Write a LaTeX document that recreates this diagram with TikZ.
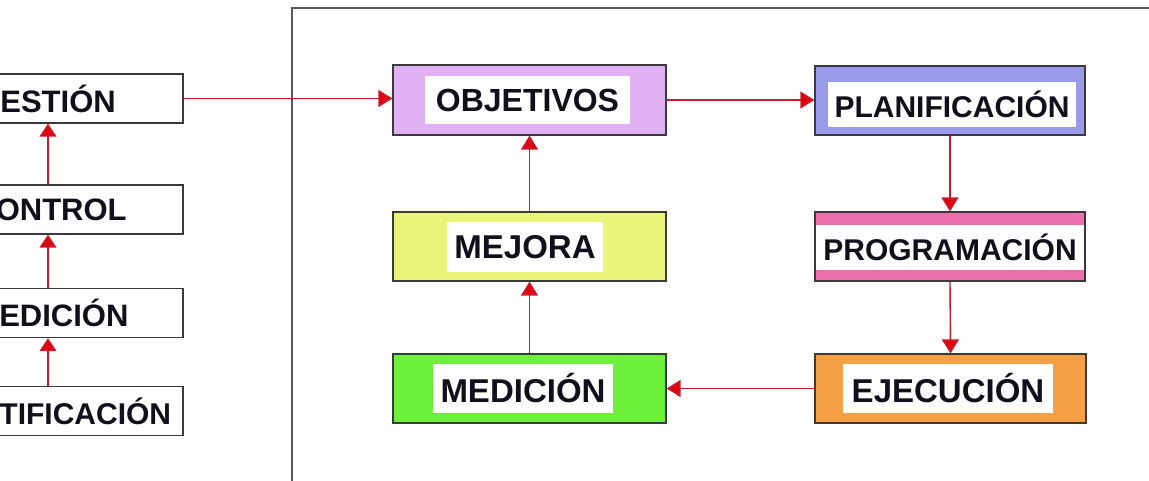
\documentclass[tikz,border=0pt]{standalone}
\usepackage{fontspec}
\setmainfont{Liberation Sans}
\usetikzlibrary{arrows.meta}
\definecolor{cobj}{HTML}{E0B0F2}
\definecolor{cplan}{HTML}{9A9AEB}
\definecolor{cprog}{HTML}{EC6EAA}
\definecolor{cejec}{HTML}{F5A046}
\definecolor{cmej}{HTML}{E8F57A}
\definecolor{cmed}{HTML}{6CF03C}
\definecolor{cline}{HTML}{C81A2A}
\definecolor{ctip}{HTML}{E00010}
\definecolor{cbord}{HTML}{3A3A3A}
\definecolor{ctext}{HTML}{10101C}
\tikzset{
  outerbox/.style={draw=cbord, line width=1.2pt, minimum width=#1, inner sep=0pt},
  innerbox/.style={fill=white, inner sep=0pt, text=ctext, font=\bfseries\fontsize{32}{32}\selectfont},
  lbox/.style={draw=cbord, line width=1.3pt, fill=white, minimum width=#1, minimum height=49pt, inner sep=0pt, text=ctext, font=\bfseries\fontsize{31}{31}\selectfont},
  arr/.style={draw=cline, line width=1.4pt, -{Triangle[length=14pt,width=17pt,fill=ctip]}},
  larr/.style={draw=cline, line width=1.4pt, -{Triangle[length=13pt,width=17pt,fill=ctip]}},
}
\begin{document}
\begin{tikzpicture}[x=1pt,y=-1pt]
\useasboundingbox (0,0) rectangle (1149,480);
\clip (0,0) rectangle (1149,480);
\fill[white] (0,0) rectangle (1149,480);
% left column
\node[lbox=274pt] (g) at (46,98.5) {GESTIÓN};
\node[lbox=266pt] (c) at (50,209.5) {CONTROL};
\node[lbox=264pt] (m) at (51,313) {MEDICIÓN};
\node[lbox=282pt, font=\bfseries\fontsize{30}{30}\selectfont] (q) at (42,411) {CUANTIFICACIÓN};
\coordinate (lx) at (48,0);
\draw[larr] (lx |- q.north) -- (lx |- m.south);
\draw[larr] (lx |- m.north) -- (lx |- c.south);
\draw[larr] (lx |- c.north) -- (lx |- g.south);
% frame
\draw[draw=cbord!85, line width=2pt] (1200,8) -- (292,8) -- (292,500);
% right boxes
\node[outerbox=273pt, minimum height=70pt, fill=cobj] (obj) at (529.5,100) {};
\node[innerbox, minimum width=205pt, minimum height=48pt] (objt) at (527.5,100) {OBJETIVOS};
\node[outerbox=270pt, minimum height=69pt, fill=cplan] (plan) at (950,100.5) {};
\node[innerbox, minimum width=248pt, minimum height=45pt, font=\bfseries\fontsize{30}{30}\selectfont] (plant) at (952,104.5) {PLANIFICACIÓN};
\node[outerbox=270pt, minimum height=69pt, fill=cprog] (prog) at (950,246.5) {};
\node[innerbox, minimum width=268pt, minimum height=45pt, font=\bfseries\fontsize{30}{30}\selectfont] (progt) at (950,247.5) {PROGRAMACIÓN};
\node[outerbox=271pt, minimum height=69pt, fill=cejec] (ejec) at (950.5,388.5) {};
\node[innerbox, minimum width=210pt, minimum height=49pt, font=\bfseries\fontsize{33}{33}\selectfont] (eject) at (948,388.5) {EJECUCIÓN};
\node[outerbox=273pt, minimum height=69pt, fill=cmej] (mej) at (529.5,246.5) {};
\node[innerbox, minimum width=156pt, minimum height=50pt, font=\bfseries\fontsize{33}{33}\selectfont] (mejt) at (525,247) {MEJORA};
\node[outerbox=273pt, minimum height=69pt, fill=cmed] (med) at (529.5,388.5) {};
\node[innerbox, minimum width=180pt, minimum height=49pt, font=\bfseries\fontsize{33}{33}\selectfont] (medt) at (523,388.5) {MEDICIÓN};
% connectors
\draw[arr] (g.east) -- (g.east -| obj.west);
\draw[arr] (obj.east) -- (obj.east -| plan.west);
\draw[arr] (plan.south) -- (prog.north);
\draw[arr] (prog.south) -- (ejec.north);
\draw[arr] (ejec.west) -- (med.east);
\draw[arr] (med.north) -- (mej.south);
\draw[arr] (mej.north) -- (obj.south);
\end{tikzpicture}
\end{document}
